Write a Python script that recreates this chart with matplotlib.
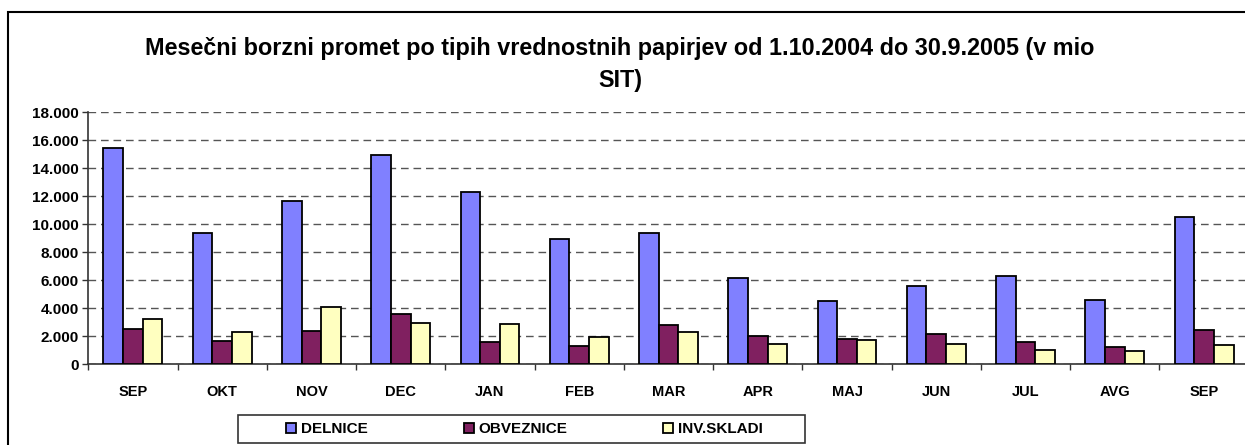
import numpy as np
import matplotlib.pyplot as plt
from matplotlib.patches import Rectangle

plt.rcParams['font.family'] = ['Liberation Sans', 'DejaVu Sans']

meseci = ["SEP", "OKT", "NOV", "DEC", "JAN", "FEB", "MAR", "APR", "MAJ", "JUN", "JUL", "AVG", "SEP"]
delnice = [15480, 9360, 11640, 14950, 12290, 8970, 9380, 6190, 4540, 5570, 6290, 4590, 10520]
obveznice = [2500, 1660, 2380, 3590, 1590, 1330, 2790, 2000, 1810, 2190, 1610, 1210, 2470]
inv_skladi = [3260, 2330, 4070, 2930, 2900, 1930, 2290, 1470, 1710, 1430, 1020, 970, 1380]
serije = ["DELNICE", "OBVEZNICE", "INV.SKLADI"]
barve = ["#8080FF", "#802060", "#FFFFC0"]

fig = plt.figure(figsize=(12.45, 4.45), dpi=100)
ax = fig.add_axes([0.0709, 0.1813, 0.9321, 0.5663])

x = np.arange(len(meseci))
w = 0.22
for i, (vals, name, c) in enumerate(zip([delnice, obveznice, inv_skladi], serije, barve)):
    ax.bar(x + (i - 1) * w, vals, w, color=c, edgecolor="black", linewidth=1.3,
           label=name, zorder=3)

ax.set_xlim(-0.5, len(meseci) - 0.5)
ax.set_ylim(0, 18000)
ax.set_yticks(np.arange(0, 18001, 2000))
ax.set_yticklabels([f"{v:,}".replace(",", ".") for v in range(0, 18001, 2000)],
                   fontsize=11, fontweight="bold")
ax.set_xticks(x)
ax.set_xticklabels(meseci, fontsize=10.5, fontweight="bold")
ax.set_xticks(np.arange(-0.5, len(meseci)), minor=True)
ax.tick_params(axis="x", which="major", length=0, pad=15)
ax.tick_params(axis="x", which="minor", length=4, width=1, color="#333333")
ax.tick_params(axis="y", length=4, width=1, color="#333333", pad=3)
ax.yaxis.grid(True, linestyle=(0, (5.5, 3.5)), color="#555555", linewidth=1, zorder=0)
for s in ["top", "right"]:
    ax.spines[s].set_visible(False)
for s in ["left", "bottom"]:
    ax.spines[s].set_color("#333333")
    ax.spines[s].set_linewidth(1.2)

fig.text(0.498, 0.891, "Mesečni borzni promet po tipih vrednostnih papirjev od 1.10.2004 do 30.9.2005 (v mio",
         ha="center", va="center", fontsize=16.8, fontweight="bold")
fig.text(0.498, 0.818, "SIT)", ha="center", va="center", fontsize=16.8, fontweight="bold")

# legend: entries without frame, box drawn separately (Excel-style padding)
leg = fig.legend(loc="center", bbox_to_anchor=(0.4213, 0.036), ncol=3,
                 prop={"size": 11, "weight": "bold"}, frameon=False,
                 handlelength=0.65, handleheight=0.65,
                 handletextpad=0.3, columnspacing=6.3, borderpad=0,
                 borderaxespad=0)
for h in leg.legend_handles:
    h.set_linewidth(1.3)
fig.patches.append(Rectangle((238 / 1245, 2 / 445), 567 / 1245, 28 / 445, transform=fig.transFigure,
                             fill=False, edgecolor="#333333", linewidth=1.2))

fig.patches.append(Rectangle((8 / 1245, -0.1), 1.1, 1.1 - 12 / 445, transform=fig.transFigure,
                             fill=False, edgecolor="black", linewidth=1.5))

fig.savefig("out.png", dpi=100)
